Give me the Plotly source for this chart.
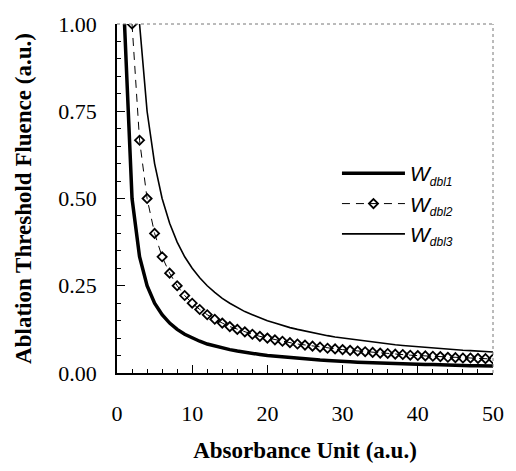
import plotly.graph_objects as go

# W_dbl1 (thick solid), x = 1..50
x1 = list(range(1, 51))
w_dbl1 = [1.000, 0.500, 0.333, 0.250, 0.200, 0.167, 0.143, 0.125, 0.111, 0.100,
          0.091, 0.083, 0.077, 0.071, 0.067, 0.063, 0.059, 0.056, 0.053, 0.050,
          0.048, 0.045, 0.043, 0.042, 0.040, 0.038, 0.037, 0.036, 0.034, 0.033,
          0.032, 0.031, 0.030, 0.029, 0.029, 0.028, 0.027, 0.026, 0.026, 0.025,
          0.024, 0.024, 0.023, 0.023, 0.022, 0.022, 0.021, 0.021, 0.020, 0.020]

# W_dbl2 (dashed with open diamonds), x = 2..50
x2 = list(range(2, 51))
w_dbl2 = [1.000, 0.667, 0.500, 0.400, 0.333, 0.286, 0.250, 0.222, 0.200, 0.182,
          0.167, 0.154, 0.143, 0.133, 0.125, 0.118, 0.111, 0.105, 0.100, 0.095,
          0.091, 0.087, 0.083, 0.080, 0.077, 0.074, 0.071, 0.069, 0.067, 0.065,
          0.063, 0.061, 0.059, 0.057, 0.056, 0.054, 0.053, 0.051, 0.050, 0.049,
          0.048, 0.047, 0.045, 0.044, 0.043, 0.043, 0.042, 0.041, 0.040]

# W_dbl3 (thin solid), x = 3..50
x3 = list(range(3, 51))
w_dbl3 = [1.000, 0.750, 0.600, 0.500, 0.429, 0.375, 0.333, 0.300, 0.273, 0.250,
          0.231, 0.214, 0.200, 0.188, 0.176, 0.167, 0.158, 0.150, 0.143, 0.136,
          0.130, 0.125, 0.120, 0.115, 0.111, 0.107, 0.103, 0.100, 0.097, 0.094,
          0.091, 0.088, 0.086, 0.083, 0.081, 0.079, 0.077, 0.075, 0.073, 0.071,
          0.070, 0.068, 0.067, 0.065, 0.064, 0.063, 0.061, 0.060]

names = ["<i>W</i><sub><span style='font-size:12px'><i>dbl1</i></span></sub>",
         "<i>W</i><sub><span style='font-size:12px'><i>dbl2</i></span></sub>",
         "<i>W</i><sub><span style='font-size:12px'><i>dbl3</i></span></sub>"]

x_ticks = [0, 10, 20, 30, 40, 50]
y_ticks = [0.0, 0.25, 0.5, 0.75, 1.0]
y_tick_labels = ["0.00", "0.25", "0.50", "0.75", "1.00"]

fig = go.Figure()
fig.add_trace(go.Scatter(x=x1, y=w_dbl1, mode="lines", name=names[0],
                         line=dict(color="black", width=3.5)))
fig.add_trace(go.Scatter(x=x2, y=w_dbl2, mode="lines+markers", name=names[1],
                         line=dict(color="black", width=1, dash="8px,6px"),
                         marker=dict(symbol="diamond-open", size=7, color="black",
                                     line=dict(width=1.8, color="black"))))
fig.add_trace(go.Scatter(x=x3, y=w_dbl3, mode="lines", name=names[2],
                         line=dict(color="black", width=1.6)))

serif = "Liberation Serif, Times New Roman, serif"

fig.update_layout(
    width=516, height=471,
    margin=dict(l=117, r=17, t=14, b=98),
    paper_bgcolor="white", plot_bgcolor="white",
    showlegend=True,
    legend=dict(x=0.585, y=0.63, xanchor="left", yanchor="top",
                bgcolor="rgba(0,0,0,0)", itemwidth=63, tracegroupgap=0,
                font=dict(family="Liberation Sans, Arial, sans-serif", size=21, color="black")),
    font=dict(family=serif, color="black"),
    xaxis=dict(range=[0, 50], tickvals=x_ticks, ticks="inside", ticklen=8,
               tickcolor="black", tickwidth=1,
               minor=dict(dtick=2, ticks="inside", ticklen=4, tickcolor="black"),
               showline=True, linecolor="black", linewidth=1.5,
               showgrid=False, zeroline=False, ticklabelstandoff=20,
               tickfont=dict(family=serif, size=22, color="black"),
               title=dict(text="<b>Absorbance Unit (a.u.)</b>", standoff=17,
                          font=dict(family=serif, size=23, color="black"))),
    yaxis=dict(range=[0, 1.0], tickvals=y_ticks, ticktext=y_tick_labels,
               ticks="inside", ticklen=8, tickcolor="black", tickwidth=1,
               minor=dict(dtick=0.05, ticks="inside", ticklen=4, tickcolor="black"),
               showline=True, linecolor="black", linewidth=1.5,
               showgrid=False, zeroline=False, ticklabelstandoff=14,
               tickfont=dict(family=serif, size=22, color="black"),
               title=dict(text="<b>Ablation Threshold Fluence (a.u.)</b>", standoff=20,
                          font=dict(family=serif, size=23, color="black"))),
    shapes=[
        dict(type="line", xref="x domain", yref="y domain", x0=0, x1=1, y0=1, y1=1,
             line=dict(color="#777", width=1, dash="dot")),
        dict(type="line", xref="x domain", yref="y domain", x0=1, x1=1, y0=0, y1=1,
             line=dict(color="#777", width=1, dash="dot")),
    ],
)

fig.write_html("out.html")
